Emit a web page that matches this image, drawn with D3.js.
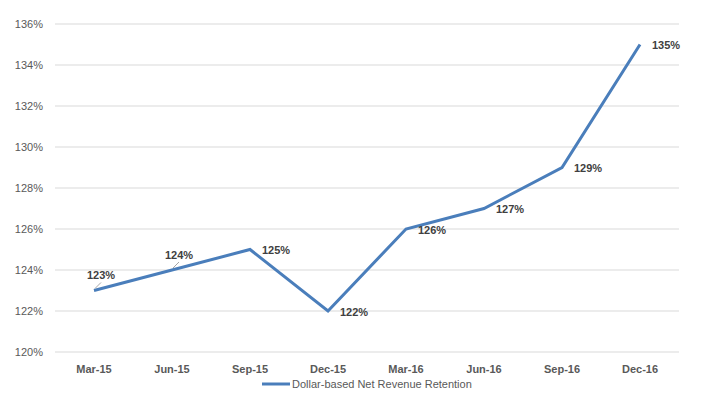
<!DOCTYPE html>
<html>
<head>
<meta charset="utf-8">
<script src="https://cdn.jsdelivr.net/npm/d3@7"></script>
<style>
  body { margin: 0; background: #fff; }
  text { font-family: "Liberation Sans", Arial, sans-serif; }
</style>
</head>
<body>
<div id="chart"></div>
<script>
/* Dollar-based net revenue retention, quarterly */

const quarters = ["Mar-15", "Jun-15", "Sep-15", "Dec-15", "Mar-16", "Jun-16", "Sep-16", "Dec-16"];
const retention = [123, 124, 125, 122, 126, 127, 129, 135];
const yTicks = [120, 122, 124, 126, 128, 130, 132, 134, 136];
const seriesName = "Dollar-based Net Revenue Retention";

const data = quarters.map((q, i) => ({q: q, v: retention[i]}));

const width = 718,
      height = 401,
      margin = ({top: 24, right: 39, bottom: 49, left: 55});

let svg = d3.select("#chart")
            .append("svg")
            .attr("width", width)
            .attr("height", height);

let x = d3.scaleBand()
          .domain(quarters)
          .range([margin.left, width - margin.right]);

let y = d3.scaleLinear()
          .domain([120, 136])
          .range([height - margin.bottom, margin.top]);

/* gridlines */
svg.append("g")
   .selectAll("line")
   .data(yTicks)
   .join("line")
   .attr("x1", margin.left)
   .attr("x2", width - margin.right)
   .attr("y1", d => y(d))
   .attr("y2", d => y(d))
   .attr("stroke", "#d9d9d9")
   .attr("stroke-width", 1);

/* y axis labels */
const yAxis = g => g
      .attr("transform", `translate(${margin.left - 9}, 0)`)
      .call(d3.axisLeft(y).tickValues(yTicks).tickFormat(d => d + "%").tickSize(0))
      .call(g => g.select(".domain").remove())
      .call(g => g.selectAll("text")
                  .attr("fill", "#595959")
                  .style("font-size", "11px"));

svg.append("g").call(yAxis);

/* x axis labels */
const xAxis = g => g
      .attr("transform", `translate(0, ${height - margin.bottom + 10})`)
      .call(d3.axisBottom(x).tickSize(0))
      .call(g => g.select(".domain").remove())
      .call(g => g.selectAll("text")
                  .attr("fill", "#595959")
                  .style("font-size", "11px")
                  .style("font-weight", "bold"));

svg.append("g").call(xAxis);

const cx = d => x(d.q) + x.bandwidth() / 2;

/* the line */
svg.append("path")
   .datum(data)
   .attr("fill", "none")
   .attr("stroke", "#4a7ebb")
   .attr("stroke-width", 3)
   .attr("stroke-linejoin", "miter")
   .attr("d", d3.line().x(cx).y(d => y(d.v)));

/* data labels: first two sit above-left with a leader line */
const above = d => d.q === "Mar-15" || d.q === "Jun-15";

svg.append("g")
   .selectAll("line")
   .data(data.filter(above))
   .join("line")
   .attr("x1", d => cx(d) + 1)
   .attr("y1", d => y(d.v) - 2)
   .attr("x2", d => cx(d) + 7)
   .attr("y2", d => y(d.v) - 8)
   .attr("stroke", "#a6a6a6")
   .attr("stroke-width", 1);

svg.append("g")
   .selectAll("text")
   .data(data)
   .join("text")
   .text(d => d.v + "%")
   .attr("x", d => above(d) ? cx(d) - 7 : cx(d) + 12)
   .attr("y", d => above(d) ? y(d.v) - 15 : y(d.v) + 1)
   .attr("dy", "0.35em")
   .style("font-size", "11px")
   .style("font-weight", "bold")
   .attr("fill", "#404040");

/* legend */
let legend = svg.append("g")
                .attr("transform", `translate(262, 384)`);

legend.append("line")
      .attr("x1", 0)
      .attr("x2", 28)
      .attr("stroke", "#4a7ebb")
      .attr("stroke-width", 3);

legend.append("text")
      .text(seriesName)
      .attr("x", 30)
      .attr("dy", "0.35em")
      .style("font-size", "11px")
      .attr("fill", "#595959");
</script>
</body>
</html>
